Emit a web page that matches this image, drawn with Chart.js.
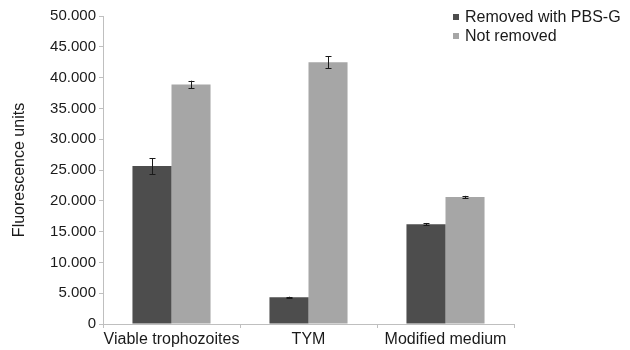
<!DOCTYPE html>
<html>
<head>
<meta charset="utf-8">
<script src="https://cdn.jsdelivr.net/npm/chart.js@4.4.0/dist/chart.umd.min.js"></script>
<style>
html,body{margin:0;padding:0;background:#fff;}
#wrap{position:relative;width:630px;height:350px;}
#legend{position:absolute;left:453px;top:7px;font-family:"Liberation Sans",Arial,sans-serif;font-size:16px;color:#1a1a1a;line-height:19px;white-space:nowrap;}
#legend .sw{display:inline-block;width:6px;height:6px;margin-right:6px;vertical-align:middle;position:relative;top:-1px;}
</style>
</head>
<body>
<div id="wrap">
<canvas id="c" width="630" height="350"></canvas>
<div id="legend"></div>
</div>
<script>
const categories = ["Viable trophozoites", "TYM", "Modified medium"];
const seriesNames = ["Removed with PBS-G", "Not removed"];
const removedValues = [25650, 4330, 16200];
const removedErrors = [1300, 100, 200];
const notRemovedValues = [38900, 42500, 20600];
const notRemovedErrors = [600, 1000, 200];
const yTicks = [0, 5000, 10000, 15000, 20000, 25000, 30000, 35000, 40000, 45000, 50000];
const colors = ["#4d4d4d", "#a6a6a6"];

function fmt(v){ return v === 0 ? "0" : (v/1000).toFixed(3); }

const errorBars = {
  id: 'errorBars',
  afterDatasetsDraw(chart){
    const ctx = chart.ctx;
    const y = chart.scales.y;
    chart.data.datasets.forEach((ds, di) => {
      const meta = chart.getDatasetMeta(di);
      meta.data.forEach((bar, i) => {
        const v = ds.data[i], e = ds.errors[i];
        const yt = y.getPixelForValue(v + e), yb = y.getPixelForValue(v - e);
        const x = Math.round(bar.x) + 0.5;
        ctx.save();
        ctx.strokeStyle = '#1a1a1a';
        ctx.lineWidth = 1;
        ctx.beginPath();
        ctx.moveTo(x, yt); ctx.lineTo(x, yb);
        ctx.moveTo(x-3, Math.round(yt)+0.5); ctx.lineTo(x+3, Math.round(yt)+0.5);
        ctx.moveTo(x-3, Math.round(yb)+0.5); ctx.lineTo(x+3, Math.round(yb)+0.5);
        ctx.stroke();
        ctx.restore();
      });
    });
  }
};

const fam = '"Liberation Sans", Arial, sans-serif';

new Chart(document.getElementById('c'), {
  type: 'bar',
  data: {
    labels: categories,
    datasets: [
      {label: seriesNames[0], data: removedValues, errors: removedErrors, backgroundColor: colors[0], categoryPercentage: 0.57, barPercentage: 1.0},
      {label: seriesNames[1], data: notRemovedValues, errors: notRemovedErrors, backgroundColor: colors[1], categoryPercentage: 0.57, barPercentage: 1.0}
    ]
  },
  options: {
    responsive: false,
    animation: false,
    layout: {padding: {top: 16, right: 116, left: 0, bottom: 0}},
    plugins: {legend: {display: false}, tooltip: {enabled: false}},
    scales: {
      x: {
        grid: {display: true, drawOnChartArea: false, drawTicks: true, tickLength: 4, color: '#bfbfbf', offset: true},
        border: {color: '#bfbfbf'},
        ticks: {color: '#1a1a1a', font: {family: fam, size: 16}, padding: 2, maxRotation: 0, autoSkip: false},
        afterFit(s){ s.height = 26; }
      },
      y: {
        min: 0, max: 50000,
        afterBuildTicks(s){ s.ticks = yTicks.map(v => ({value: v})); },
        grid: {display: true, drawOnChartArea: false, drawTicks: true, tickLength: 4, color: '#bfbfbf'},
        border: {color: '#bfbfbf'},
        ticks: {color: '#1a1a1a', font: {family: fam, size: 15}, padding: 3, callback: v => fmt(v)},
        title: {display: true, text: 'Fluorescence units', color: '#1a1a1a', font: {family: fam, size: 16}, padding: {top: 10, bottom: 10}},
        afterFit(s){ s.width = 103; }
      }
    }
  },
  plugins: [errorBars]
});

const lg = document.getElementById('legend');
seriesNames.forEach((n, i) => {
  const d = document.createElement('div');
  d.innerHTML = '<span class="sw" style="background:' + colors[i] + '"></span>' + n;
  lg.appendChild(d);
});
</script>
</body>
</html>
